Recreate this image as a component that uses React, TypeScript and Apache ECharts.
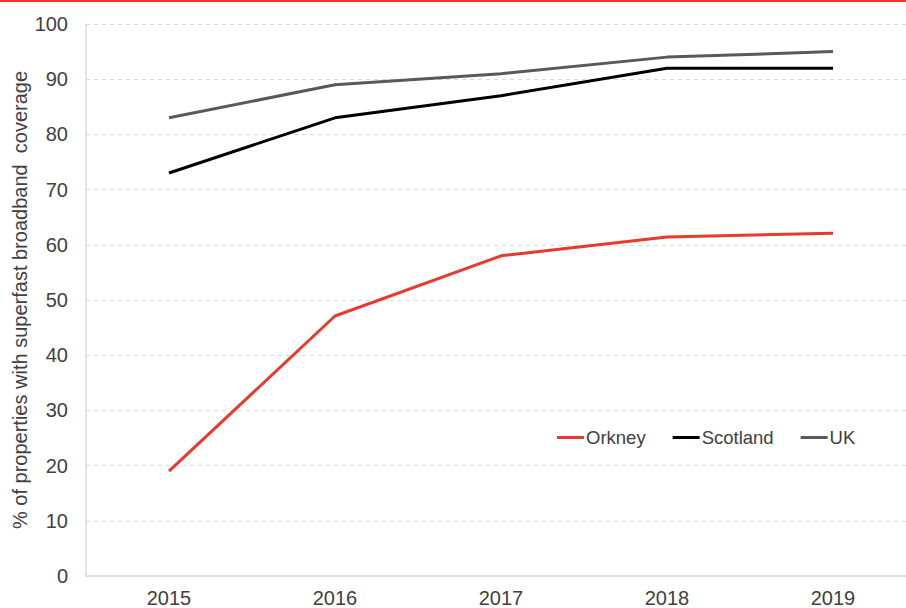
import React, { useEffect, useRef } from "react";
import * as echarts from "echarts";

const years = ["2015", "2016", "2017", "2018", "2019"];
const orkney = [19, 47.1, 58, 61.4, 62.1];
const scotland = [73, 83, 87, 92, 92];
const uk = [83, 89, 91, 94, 95];

export default function App() {
  const ref = useRef<HTMLDivElement>(null);
  useEffect(() => {
    const chart = echarts.init(ref.current!, null, { renderer: "svg" });
    const font = "Liberation Sans, Arial, sans-serif";
    chart.setOption({
      animation: false,
      textStyle: { fontFamily: font },
      graphic: [
        { type: "rect", shape: { x: 0, y: 0, width: 906, height: 2 }, style: { fill: "#e8392e" } },
      ],
      grid: { left: 86, right: -10, top: 24, bottom: 32, outerBoundsMode: "none", containLabel: false },
      legend: {
        left: 557,
        top: 428,
        padding: 0,
        icon: "rect",
        itemWidth: 27,
        itemHeight: 3,
        itemGap: 27,
        textStyle: { fontSize: 18.5, color: "#404040", fontFamily: font, padding: [0, 0, 0, -3] },
        data: ["Orkney", "Scotland", "UK"],
      },
      xAxis: {
        type: "category",
        data: years,
        boundaryGap: true,
        axisLine: { lineStyle: { color: "#d9d9d9", width: 1.5 } },
        axisTick: { show: false },
        axisLabel: { fontSize: 20, color: "#404040", margin: 12 },
      },
      yAxis: {
        type: "value",
        min: 0,
        max: 100,
        interval: 10,
        name: "% of properties with superfast broadband  coverage",
        nameLocation: "middle",
        nameGap: 56,
        nameMoveOverlap: false,
        nameTextStyle: { fontSize: 20, color: "#404040" },
        axisLine: { show: true, lineStyle: { color: "#d9d9d9", width: 1.5 } },
        axisTick: { show: false },
        axisLabel: { fontSize: 20, color: "#404040", margin: 18 },
        splitLine: { lineStyle: { color: "#d9d9d9", type: [4, 4] } },
      },
      series: [
        { name: "Orkney", type: "line", data: orkney, symbol: "none", lineStyle: { width: 3, color: "#e8392e" }, itemStyle: { color: "#e8392e" } },
        { name: "Scotland", type: "line", data: scotland, symbol: "none", lineStyle: { width: 3, color: "#000000" }, itemStyle: { color: "#000000" } },
        { name: "UK", type: "line", data: uk, symbol: "none", lineStyle: { width: 3, color: "#595959" }, itemStyle: { color: "#595959" } },
      ],
    });
    return () => chart.dispose();
  }, []);
  return <div ref={ref} style={{ position: "absolute", left: 0, top: 0, width: 906, height: 608 }} />;
}
